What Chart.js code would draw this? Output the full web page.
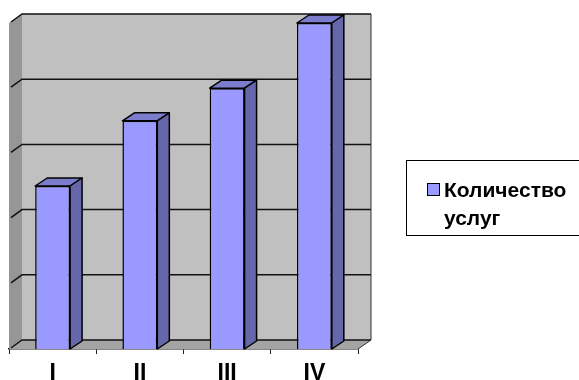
<!DOCTYPE html>
<html>
<head>
<meta charset="utf-8">
<script src="https://cdn.jsdelivr.net/npm/chart.js@4"></script>
<style>
    html, body { margin: 0; padding: 0; background: #fff; }
    #wrap { width: 579px; height: 380px; }
</style>
</head>
<body>
<div id="wrap"><canvas id="chartUslugi"></canvas></div>
<script>
// Datos del gráfico
const categorias = ['I', 'II', 'III', 'IV'];
const serieNombre = 'Количество услуг';
const serieValores = [25, 35, 40, 50];
const ejeMax = 50;
const ejePaso = 10;

// Profundidad 3D (pseudo)
const PROF_X = 13, PROF_Y = -9;
const BARRA_X = 12, BARRA_Y = -8;

// ========================================================================
// Plugin: paredes, suelo, caras 3D de las barras y leyenda
// ========================================================================
const plugin3D = {
    id: 'plugin3D',
    beforeDatasetsDraw(chart) {
        const ctx = chart.ctx;
        const a = chart.chartArea;
        const yScale = chart.scales.y;
        ctx.save();

        // pared del fondo
        ctx.fillStyle = '#C0C0C0';
        ctx.fillRect(a.left + PROF_X, a.top + PROF_Y, a.right - a.left, a.bottom - a.top);

        // pared lateral
        ctx.fillStyle = '#969696';
        ctx.beginPath();
        ctx.moveTo(a.left, a.top);
        ctx.lineTo(a.left + PROF_X, a.top + PROF_Y);
        ctx.lineTo(a.left + PROF_X, a.bottom + PROF_Y);
        ctx.lineTo(a.left, a.bottom);
        ctx.closePath();
        ctx.fill();

        // suelo
        ctx.fillStyle = '#A4A4A4';
        ctx.beginPath();
        ctx.moveTo(a.left, a.bottom);
        ctx.lineTo(a.right, a.bottom);
        ctx.lineTo(a.right + PROF_X, a.bottom + PROF_Y);
        ctx.lineTo(a.left + PROF_X, a.bottom + PROF_Y);
        ctx.closePath();
        ctx.fill();

        // líneas de cuadrícula
        ctx.strokeStyle = '#111';
        ctx.lineWidth = 1.5;
        yScale.ticks.forEach(t => {
            const y = yScale.getPixelForValue(t.value);
            ctx.beginPath();
            ctx.moveTo(a.left + 2, y - 1);
            ctx.lineTo(a.left + PROF_X, y + PROF_Y);
            ctx.lineTo(a.right + PROF_X, y + PROF_Y);
            ctx.stroke();
        });

        // borde derecho del suelo
        ctx.strokeStyle = '#333';
        ctx.lineWidth = 1;
        ctx.beginPath();
        ctx.moveTo(a.right, a.bottom);
        ctx.lineTo(a.right + PROF_X, a.bottom + PROF_Y);
        ctx.lineTo(a.right + PROF_X, a.top + PROF_Y);
        ctx.stroke();
        ctx.restore();
    },
    afterDatasetsDraw(chart) {
        const ctx = chart.ctx;
        ctx.save();
        ctx.strokeStyle = '#000';
        ctx.lineWidth = 1.5;
        ctx.lineJoin = 'round';
        chart.getDatasetMeta(0).data.forEach(bar => {
            const p = bar.getProps(['x', 'y', 'base', 'width'], true);
            const izq = p.x - p.width / 2;
            const der = p.x + p.width / 2;
            // cara superior
            ctx.fillStyle = '#7C7CCC';
            ctx.beginPath();
            ctx.moveTo(izq, p.y);
            ctx.lineTo(izq + BARRA_X, p.y + BARRA_Y);
            ctx.lineTo(der + BARRA_X, p.y + BARRA_Y);
            ctx.lineTo(der, p.y);
            ctx.closePath();
            ctx.fill();
            ctx.stroke();
            // cara lateral
            ctx.fillStyle = '#6666AA';
            ctx.beginPath();
            ctx.moveTo(der, p.y);
            ctx.lineTo(der + BARRA_X, p.y + BARRA_Y);
            ctx.lineTo(der + BARRA_X, p.base + BARRA_Y);
            ctx.lineTo(der, p.base);
            ctx.closePath();
            ctx.fill();
            ctx.stroke();
        });
        ctx.restore();
    },
    afterDraw(chart) {
        // leyenda
        const ctx = chart.ctx;
        const ds = chart.data.datasets[0];
        ctx.save();
        ctx.strokeStyle = '#000';
        ctx.lineWidth = 1;
        ctx.strokeRect(406.5, 160.5, 180, 75);
        ctx.fillStyle = ds.backgroundColor;
        ctx.fillRect(427, 183, 13, 13);
        ctx.strokeRect(427.5, 183.5, 12, 12);
        ctx.fillStyle = '#000';
        ctx.font = "bold 21px 'Liberation Sans', Arial, sans-serif";
        ctx.textBaseline = 'alphabetic';
        ds.label.split(' ').forEach((linea, i) => {
            ctx.fillText(linea, 444, 197 + i * 28);
        });
        ctx.restore();
    }
};

const ctxUslugi = document.getElementById('chartUslugi');
new Chart(ctxUslugi, {
    type: 'bar',
    data: {
        labels: categorias,
        datasets: [{
            label: serieNombre,
            data: serieValores,
            backgroundColor: '#9999FF',
            borderColor: '#000',
            borderWidth: 1.5,
            categoryPercentage: 0.5,
            barPercentage: 0.8
        }]
    },
    options: {
        responsive: true,
        maintainAspectRatio: false,
        animation: false,
        layout: {
            padding: { left: 9, right: 221, top: 23, bottom: -13 }
        },
        scales: {
            x: {
                grid: {
                    display: true,
                    drawOnChartArea: false,
                    offset: true,
                    tickLength: 5,
                    color: '#222'
                },
                border: { color: '#111', width: 1.5 },
                ticks: {
                    color: '#000',
                    padding: 8,
                    font: { family: "'Liberation Sans', Arial, sans-serif", size: 23, weight: 'bold', lineHeight: 1 }
                }
            },
            y: {
                min: 0,
                max: ejeMax,
                afterFit: scale => { scale.width = 0; },
                ticks: { stepSize: ejePaso, display: false },
                grid: { display: false },
                border: { display: false }
            }
        },
        plugins: {
            legend: { display: false },
            tooltip: { enabled: false }
        }
    },
    plugins: [plugin3D]
});
</script>
</body>
</html>
